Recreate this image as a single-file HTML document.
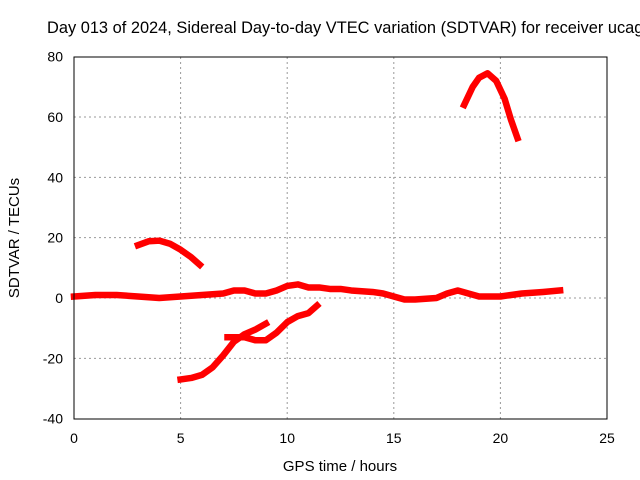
<!DOCTYPE html>
<html><head><meta charset="utf-8"><style>
body{margin:0;background:#fff;overflow:hidden}
svg{display:block;font-family:"Liberation Sans",sans-serif}
</style></head><body>
<svg id="chart" width="640" height="480">
<text x="47" y="33" font-size="16.4" text-anchor="start">Day 013 of 2024, Sidereal Day-to-day VTEC variation (SDTVAR) for receiver ucag</text>
<text x="340" y="471" font-size="15" text-anchor="middle">GPS time / hours</text>
<text transform="translate(19,238) rotate(-90)" font-size="15" text-anchor="middle">SDTVAR / TECUs</text>
<g id="grid"></g><g id="series"></g>
<rect x="74" y="57" width="533" height="362" fill="none" stroke="#000" stroke-width="1"/>
</svg>
<script>
const xTicks=[0,5,10,15,20,25];
const yTicks=[-40,-20,0,20,40,60,80];
const mainX=[0,1,2,3,4,5,6,7,7.5,8,8.5,9,9.5,10,10.5,11,11.5,12,12.5,13,14,14.5,15,15.5,16,17,17.5,18,18.5,19,20,21,22,22.8];
const mainY=[0.5,1,1,0.5,0,0.5,1,1.5,2.5,2.5,1.5,1.5,2.5,4,4.5,3.5,3.5,3,3,2.5,2,1.5,0.5,-0.5,-0.5,0,1.5,2.5,1.5,0.5,0.5,1.5,2,2.5];
const arc1X=[3,3.5,4,4.5,5,5.5,5.9];
const arc1Y=[17.5,18.8,19,18,16,13.5,11];
const arc2X=[18.3,18.7,19,19.4,19.8,20.2,20.5,20.8];
const arc2Y=[64,70,73,74.5,72,66,59,53];
const low1X=[5,5.5,6,6.5,7,7.5,8,8.5,9];
const low1Y=[-27,-26.5,-25.5,-23,-19,-14.5,-12,-10.5,-8.5];
const low2X=[7.2,8,8.5,9,9.5,10,10.5,11,11.4];
const low2Y=[-13,-13,-14,-14,-11.5,-8,-6,-5,-2.5];
const NS='http://www.w3.org/2000/svg';
const sx=v=>74+v*533/25, sy=v=>298-v*362/120;
const g=document.getElementById('grid'), s=document.getElementById('series');
function mk(t,a,p){const e=document.createElementNS(NS,t);for(const k in a)e.setAttribute(k,a[k]);p.appendChild(e);return e;}
xTicks.forEach(v=>{
 if(v>0&&v<25){const l=mk('line',{x1:sx(v),x2:sx(v),y1:57,y2:419,stroke:'#999','stroke-dasharray':'2,3'},g);
 
 }
 const t=mk('text',{x:sx(v),y:443,'font-size':14,'text-anchor':'middle'},g);t.textContent=v;
 
 
});
yTicks.forEach(v=>{
 if(v>-40&&v<80){const l=mk('line',{x1:74,x2:607,y1:sy(v),y2:sy(v),stroke:'#999','stroke-dasharray':'2,3'},g);
 
 }
 const t=mk('text',{x:63,y:sy(v)+5,'font-size':14,'text-anchor':'end'},g);t.textContent=v;
 
 
});
[[mainX,mainY,'series-main'],[arc1X,arc1Y,'series-arc-early'],[arc2X,arc2Y,'series-arc-peak'],[low1X,low1Y,'series-low-1'],[low2X,low2Y,'series-low-2']].forEach(([xs,ys,n])=>{
 const p=mk('polyline',{points:xs.map((x,i)=>sx(x)+','+sy(ys[i])).join(' '),fill:'none',stroke:'#f00','stroke-width':6.5,'stroke-linejoin':'round','stroke-linecap':'square'},s);
 
 
});
</script>
</body></html>
